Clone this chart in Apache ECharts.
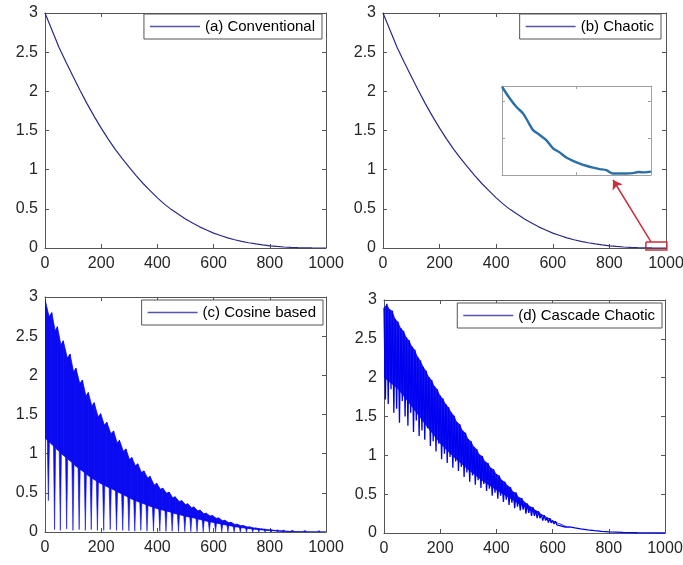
<!DOCTYPE html>
<html>
<head>
<meta charset="utf-8">
<script src="https://cdn.jsdelivr.net/npm/echarts@6/dist/echarts.min.js"></script>
<style>
  html, body { margin: 0; padding: 0; background: #fff; }
  #chart { width: 683px; height: 565px; }
</style>
</head>
<body>
<div id="chart"></div>
<script>
// values

// (a) conventional
const convX = [0, 25, 50, 75, 100, 125, 150, 175, 200, 225, 250, 275, 300, 325, 350, 375, 400, 425, 450, 475,
  500, 525, 550, 575, 600, 625, 650, 675, 700, 725, 750, 775, 800, 825, 850, 875, 900, 925, 950, 975, 1000];
const convY = [3.00, 2.78, 2.56, 2.37, 2.19, 2.01, 1.84, 1.68, 1.53, 1.39, 1.26, 1.14, 1.03, 0.92, 0.82, 0.73, 0.64, 0.56, 0.49, 0.43,
  0.37, 0.32, 0.27, 0.23, 0.19, 0.16, 0.13, 0.105, 0.085, 0.067, 0.052, 0.039, 0.028, 0.02, 0.013, 0.008, 0.005, 0.0025, 0.001, 0.0003, 0];

// (b) chaotic, main curve + zoomed tail
const chaoX = [0, 25, 50, 75, 100, 125, 150, 175, 200, 225, 250, 275, 300, 325, 350, 375, 400, 425, 450, 475,
  500, 525, 550, 575, 600, 625, 650, 675, 700, 725, 750, 775, 800, 825, 850, 875, 900, 925, 950, 975, 1000];
const chaoY = [3.00, 2.78, 2.56, 2.37, 2.19, 2.01, 1.84, 1.68, 1.53, 1.39, 1.26, 1.14, 1.03, 0.92, 0.82, 0.73, 0.64, 0.56, 0.49, 0.43,
  0.37, 0.32, 0.27, 0.23, 0.19, 0.16, 0.13, 0.105, 0.085, 0.067, 0.052, 0.039, 0.028, 0.02, 0.013, 0.008, 0.005, 0.0025, 0.001, 0.0003, 0];
const zoomX = [930, 933.6, 936.7, 939.9, 942.2, 944.6, 947.7, 950.8, 954.0, 957.1, 960.2, 963.4, 966.5, 969.6, 972.8, 975.9, 979.0, 982.1, 985.3, 988.4, 991.5, 993.9, 997.0, 1000];
const zoomY = [0.00238, 0.00207, 0.00184, 0.00166, 0.00144, 0.00121, 0.00108, 0.00094, 0.00072, 0.00061, 0.00047, 0.00038, 0.00031, 0.00025, 0.0002, 0.00016, 0.00013, 0.00004, 0.00004, 0.00004, 0.00005, 0.00008, 0.00007, 0.00009];

// (c) cosine based: one entry per oscillation cycle
const cosX = [0, 24, 44, 65, 89, 110, 133, 154, 175, 198, 220, 244, 265, 288, 309, 330, 352, 374, 398, 419, 442, 463, 487, 508, 530, 552, 574, 596, 618, 640, 662, 684, 706, 728, 750, 772, 794, 816, 838, 860, 900, 950, 1000];
const cosPeak = [2.97, 2.80, 2.62, 2.44, 2.27, 2.09, 1.94, 1.78, 1.65, 1.51, 1.40, 1.29, 1.17, 1.06, 0.95, 0.87, 0.78, 0.71, 0.62, 0.56, 0.51, 0.45, 0.40, 0.36, 0.32, 0.28, 0.24, 0.21, 0.18, 0.15, 0.125, 0.10, 0.082, 0.066, 0.052, 0.04, 0.03, 0.022, 0.015, 0.01, 0.004, 0.001, 0];
const cosDip = [2.75, 2.57, 2.39, 2.22, 2.045, 1.895, 1.735, 1.61, 1.47, 1.365, 1.255, 1.14, 1.03, 0.925, 0.845, 0.76, 0.69, 0.60, 0.545, 0.495, 0.435, 0.39, 0.35, 0.31, 0.27, 0.233, 0.204, 0.175, 0.146, 0.12, 0.097, 0.079, 0.064, 0.05, 0.039, 0.029, 0.021, 0.0145, 0.0095, 0.004, 0.001, 0];
const cosLow = [1.20, 1.12, 1.05, 0.98, 0.91, 0.84, 0.78, 0.72, 0.67, 0.62, 0.58, 0.54, 0.50, 0.46, 0.42, 0.39, 0.36, 0.33, 0.30, 0.28, 0.26, 0.235, 0.215, 0.195, 0.18, 0.16, 0.14, 0.125, 0.108, 0.092, 0.078, 0.064, 0.053, 0.043, 0.034, 0.027, 0.02, 0.015, 0.01, 0.007, 0.003, 0.001, 0];
const cosSpike = [0.40, 0.03, 0.02, 0.04, 0.02, 0.03, 0.02, 0.03, 0.02, 0.02, 0.03, 0.02, 0.02, 0.015, 0.01, 0.02, 0.01, 0.01, 0.01, 0.008, 0.01, 0.006, 0.005, 0.005, 0.004, 0.003, 0.003, 0.002, 0.002, 0.001, 0.001, 0.001, 0, 0, 0, 0, 0, 0, 0, 0, 0, 0];

// (d) cascade chaotic: tops every 10 iterations, bottoms in between, then the tail
const cascTop = [2.90, 2.95, 2.88, 2.86, 2.76, 2.72, 2.64, 2.60, 2.52, 2.48,
  2.40, 2.36, 2.27, 2.22, 2.14, 2.09, 2.01, 1.97, 1.89, 1.85,
  1.77, 1.73, 1.66, 1.62, 1.55, 1.51, 1.43, 1.40, 1.32, 1.29,
  1.21, 1.18, 1.11, 1.08, 1.01, 0.99, 0.92, 0.90, 0.84, 0.82,
  0.76, 0.74, 0.68, 0.66, 0.61, 0.59, 0.53, 0.52, 0.46, 0.45,
  0.40, 0.38, 0.34, 0.33, 0.29, 0.28, 0.24, 0.23, 0.20, 0.19,
  0.16, 0.15, 0.13, 0.12, 0.10, 0.09];
const cascBottom = [1.72, 1.66, 1.85, 1.55, 1.60, 1.42, 1.70, 1.50, 1.38, 1.55,
  1.30, 1.45, 1.25, 1.32, 1.20, 1.35, 1.12, 1.18, 1.05, 1.15,
  0.95, 1.02, 0.90, 0.98, 0.84, 0.92, 0.80, 0.85, 0.72, 0.78,
  0.66, 0.74, 0.62, 0.68, 0.58, 0.63, 0.54, 0.57, 0.48, 0.52,
  0.44, 0.48, 0.40, 0.43, 0.36, 0.39, 0.32, 0.34, 0.29, 0.30,
  0.25, 0.26, 0.22, 0.22, 0.19, 0.19, 0.16, 0.16, 0.135, 0.13,
  0.115, 0.105, 0.095, 0.085, 0.075];
// lower edge of the solid part of the (d) band
const cascCoreX = [0, 50, 100, 150, 200, 250, 300, 350, 400, 450, 500, 550, 600, 650];
const cascCore = [2.0, 1.85, 1.62, 1.38, 1.15, 0.97, 0.81, 0.67, 0.55, 0.44, 0.33, 0.24, 0.15, 0.075];
const cascTailX = [660, 680, 700, 725, 750, 775, 800, 850, 900, 950, 1000];
const cascTailY = [0.08, 0.065, 0.052, 0.04, 0.03, 0.022, 0.015, 0.007, 0.003, 0.001, 0];

const xTicks = { min: 0, max: 1000, interval: 200 };
const yTicks = { min: 0, max: 3, interval: 0.5 };

const FONT = '"Liberation Sans", Arial, sans-serif';
const FRAME = '#555';

const grids = [
  { left: 45, top: 13, width: 281, height: 235 },
  { left: 383, top: 13, width: 283, height: 235 },
  { left: 45, top: 297, width: 281, height: 235 },
  { left: 384, top: 300, width: 281, height: 233 },
  { left: 502, top: 86, width: 149, height: 89 }
].map(g => Object.assign({ outerBoundsMode: 'none', containLabel: false }, g));

const plain = v => String(v);

const xAxes = [];
const yAxes = [];
for (let g = 0; g < 4; g++) {
  ['bottom', 'top'].forEach(pos => {
    xAxes.push(Object.assign({
      gridIndex: g, type: 'value', position: pos,
      axisLine: { show: true, onZero: false, lineStyle: { color: FRAME, width: 1 } },
      axisTick: { show: true, inside: true, length: 4, lineStyle: { color: FRAME } },
      axisLabel: { show: pos === 'bottom', color: '#262626', fontSize: 16, fontFamily: FONT, margin: 8, formatter: plain },
      splitLine: { show: false }
    }, xTicks));
  });
  ['left', 'right'].forEach(pos => {
    yAxes.push(Object.assign({
      gridIndex: g, type: 'value', position: pos,
      axisLine: { show: true, onZero: false, lineStyle: { color: FRAME, width: 1 } },
      axisTick: { show: true, inside: true, length: 4, lineStyle: { color: FRAME } },
      axisLabel: { show: pos === 'left', color: '#262626', fontSize: 16, fontFamily: FONT, margin: 7, formatter: plain },
      splitLine: { show: false }
    }, yTicks));
  });
}
// inset axes
const INSET = '#a0a0a0';
['bottom', 'top'].forEach(pos => {
  xAxes.push({
    gridIndex: 4, type: 'value', position: pos, min: 930, max: 1000,
    axisLine: { show: true, onZero: false, lineStyle: { color: INSET } },
    axisTick: { show: true, inside: true, length: 3, customValues: [930, 965, 1000], lineStyle: { color: INSET } },
    axisLabel: { show: false }, splitLine: { show: false }
  });
});
['left', 'right'].forEach(pos => {
  yAxes.push({
    gridIndex: 4, type: 'value', position: pos, min: 0, max: 0.0024, interval: 0.001,
    axisLine: { show: true, onZero: false, lineStyle: { color: INSET } },
    axisTick: { show: true, inside: true, length: 3, lineStyle: { color: INSET } },
    axisLabel: { show: false }, splitLine: { show: false }
  });
});

function pairs(xs, ys) {
  return xs.map((x, i) => [x, ys[i]]);
}

// zigzag for (d): top at 0,10,20..., bottom at 5,15,25...
const cascData = [];
cascTop.forEach((v, i) => {
  cascData.push([i * 10, v]);
  if (i < cascBottom.length) cascData.push([i * 10 + 5, cascBottom[i]]);
});
cascTailX.forEach((x, i) => cascData.push([x, cascTailY[i]]));

const COS_BLUE = '#0b0bf2';
const CASC_BLUE = '#0606ee';

function renderCosine(params, api) {
  const i = params.dataIndex;
  if (i >= cosX.length - 1) return null;
  const x0 = cosX[i], x1 = cosX[i + 1];
  const xd = x0 + (x1 - x0) * 0.6;
  const xm = (x0 + x1) / 2;
  const p = (x, y) => api.coord([x, y]);
  const band = [p(x0, cosPeak[i]), p(xd, cosDip[i]), p(x1, cosPeak[i + 1]), p(x1, cosLow[i + 1]), p(x0, cosLow[i])];
  const top = p(xm, (cosLow[i] + cosLow[i + 1]) / 2);
  const bot = p(xm, cosSpike[i]);
  return {
    type: 'group',
    children: [
      { type: 'polygon', shape: { points: band }, style: { fill: COS_BLUE, stroke: COS_BLUE, lineWidth: 0.8 } },
      {
        type: 'polygon',
        shape: { points: [[top[0] - 1.1, top[1] - 1], bot, [top[0] + 1.1, top[1] - 1]] },
        style: { fill: COS_BLUE, stroke: COS_BLUE, lineWidth: 0.6 }
      }
    ]
  };
}

// solid core of the (d) band: tops on the upper side, core line on the lower side
function renderCascCore(params, api) {
  if (params.dataIndex !== 0) return null;
  const pts = [];
  cascTop.forEach((v, i) => pts.push(api.coord([i * 10, v])));
  for (let k = cascCoreX.length - 1; k >= 0; k--) pts.push(api.coord([cascCoreX[k], cascCore[k]]));
  return { type: 'polygon', shape: { points: pts }, style: { fill: CASC_BLUE, opacity: 0.92 } };
}

const LEG_LINE = '#5656a8';
function legend(name, right, top) {
  return {
    data: [{ name: name, icon: 'rect', itemStyle: { color: LEG_LINE } }],
    right: right, top: top, orient: 'horizontal',
    itemWidth: 50, itemHeight: 1.6,
    padding: [5, 7, 5, 6],
    backgroundColor: '#fff', borderColor: FRAME, borderWidth: 1, borderRadius: 0,
    selectedMode: false,
    textStyle: { fontSize: 15, color: '#000', fontFamily: FONT }
  };
}

const chart = echarts.init(document.getElementById('chart'), null, { renderer: 'canvas' });
chart.setOption({
  animation: false,
  backgroundColor: '#fff',
  grid: grids,
  xAxis: xAxes,
  yAxis: yAxes,
  legend: [
    legend('(a) Conventional', 361, 14),
    legend('(b) Chaotic', 22, 14),
    legend('(c) Cosine based', 360, 300),
    legend('(d) Cascade Chaotic', 21, 303)
  ],
  series: [
    {
      name: '(a) Conventional', type: 'line', xAxisIndex: 0, yAxisIndex: 0,
      data: pairs(convX, convY), symbol: 'none',
      lineStyle: { color: '#2a2a85', width: 1.2 }, itemStyle: { color: LEG_LINE }
    },
    {
      name: '(b) Chaotic', type: 'line', xAxisIndex: 2, yAxisIndex: 2,
      data: pairs(chaoX, chaoY), symbol: 'none',
      lineStyle: { color: '#2a2a85', width: 1.2 }, itemStyle: { color: LEG_LINE }
    },
    {
      name: '(c) Cosine based', type: 'custom', xAxisIndex: 4, yAxisIndex: 4,
      data: pairs(cosX, cosPeak), encode: { x: 0, y: 1 }, clip: true,
      renderItem: renderCosine, itemStyle: { color: LEG_LINE }
    },
    {
      name: 'cascCore', type: 'custom', xAxisIndex: 6, yAxisIndex: 6,
      data: pairs(cascCoreX, cascCore), encode: { x: 0, y: 1 }, clip: true,
      renderItem: renderCascCore
    },
    {
      name: '(d) Cascade Chaotic', type: 'line', xAxisIndex: 6, yAxisIndex: 6,
      data: cascData, symbol: 'none',
      lineStyle: { color: '#0000f0', width: 1.3 }, itemStyle: { color: LEG_LINE }
    },
    {
      name: 'zoom', type: 'line', xAxisIndex: 8, yAxisIndex: 8,
      data: pairs(zoomX, zoomY), smooth: 0.3, symbol: 'none',
      lineStyle: { color: '#2c6fa6', width: 2.4 }
    },
    {
      name: 'zoomBox', type: 'lines', coordinateSystem: 'cartesian2d', xAxisIndex: 2, yAxisIndex: 2,
      polyline: true, clip: false, symbol: 'none',
      data: [{ coords: [[929, 0.077], [1003, 0.077], [1003, -0.025], [929, -0.025], [929, 0.077]] }],
      lineStyle: { color: '#c8303c', width: 1.5, opacity: 1 }
    },
    {
      name: 'zoomArrow', type: 'lines', coordinateSystem: 'cartesian2d', xAxisIndex: 2, yAxisIndex: 2,
      clip: false, symbol: ['none', 'arrow'], symbolSize: 9,
      data: [{ coords: [[947, 0.077], [813, 0.868]] }],
      lineStyle: { color: '#c8303c', width: 1.5, opacity: 1, curveness: 0 }
    }
  ]
});
</script>
</body>
</html>
